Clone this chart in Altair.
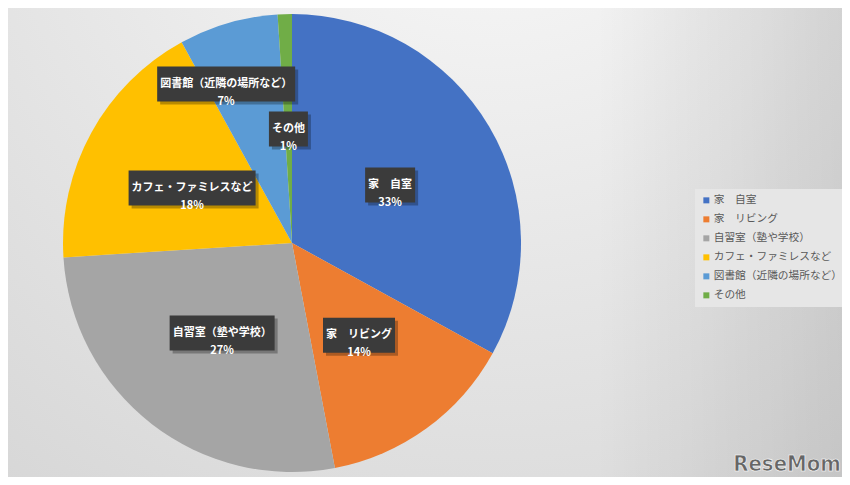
import altair as alt
import pandas as pd

# ---- data ----
categories = ["家\u3000自室", "家\u3000リビング", "自習室（塾や学校）",
              "カフェ・ファミレスなど", "図書館（近隣の場所など）", "その他"]
percents = [33, 14, 27, 18, 7, 1]
colors = ["#4472C4", "#ED7D31", "#A5A5A5", "#FFC000", "#5B9BD5", "#70AD47"]

df = pd.DataFrame({"cat": categories, "pct": percents, "idx": list(range(len(categories)))})

W, H = 834, 469
CX, CY, R = 284, 235, 229
FONT = "Noto Sans CJK JP"

# background gradient (light centre near the top, darker towards the edges)
bg = alt.Chart(alt.Data(values=[{}])).mark_rect(
    fill={"gradient": "radial", "x1": 0.58, "y1": 0.0, "x2": 0.58, "y2": 0.0,
          "r1": 0, "r2": 1.0,
          "stops": [{"offset": 0, "color": "#fbfbfb"},
                    {"offset": 0.5, "color": "#e8e8e8"},
                    {"offset": 1, "color": "#d6d6d6"}]}
).encode(x=alt.value(-10), x2=alt.value(W + 10), y=alt.value(-10), y2=alt.value(H + 10))

shade = alt.Chart(alt.Data(values=[{}])).mark_rect(
    fill={"gradient": "linear", "x1": 0, "y1": 0, "x2": 1, "y2": 0,
          "stops": [{"offset": 0, "color": "rgba(0,0,0,0)"},
                    {"offset": 0.7, "color": "rgba(0,0,0,0)"},
                    {"offset": 1, "color": "rgba(0,0,0,0.10)"}]}
).encode(x=alt.value(-10), x2=alt.value(W + 10), y=alt.value(-10), y2=alt.value(H + 10))

pie = alt.Chart(df).mark_arc(outerRadius=R).encode(
    theta=alt.Theta("pct:Q", stack=True),
    color=alt.Color("cat:N", scale=alt.Scale(domain=categories, range=colors),
                    legend=alt.Legend(title=None, orient="none", legendX=687, legendY=181,
                                      fillColor="#e6e6e6", padding=6,
                                      symbolType="square", symbolSize=36,
                                      symbolStrokeWidth=0, labelFontSize=10.7,
                                      labelColor="#595959", labelFont=FONT,
                                      rowPadding=7, labelOffset=2, labelLimit=200)),
    order=alt.Order("idx:Q"),
    x=alt.value(CX), y=alt.value(CY),
)

base = alt.Chart(df).transform_window(
    cum="sum(pct)", sort=[alt.SortField("idx")], frame=[None, 0]
).transform_joinaggregate(
    total="sum(pct)"
).transform_calculate(
    mid="(datum.cum - datum.pct/2) / datum.total * 2 * PI - (datum.idx == 4 ? 0.11 : 0)",
    r="datum.idx == 4 ? 172 : 114",
    label="datum.cat + '\\n' + datum.pct + '%'",
).transform_calculate(
    lx=f"{CX} + datum.r * sin(datum.mid)",
    ly=f"{CY} - datum.r * cos(datum.mid)",
    bw="11 * length(datum.cat) + 6",
).transform_calculate(
    x1="datum.lx - datum.bw/2", x2="datum.lx + datum.bw/2",
    y1="datum.ly - 17.5", y2="datum.ly + 17.5",
    sx1="datum.lx - datum.bw/2 + 3", sx2="datum.lx + datum.bw/2 + 3",
    sy1="datum.ly - 17.5 + 3", sy2="datum.ly + 17.5 + 3",
)

shadow = base.mark_rect(fill="#000000", opacity=0.28).encode(
    x=alt.X("sx1:Q", scale=None, axis=None), x2="sx2:Q",
    y=alt.Y("sy1:Q", scale=None, axis=None), y2="sy2:Q",
)
boxes = base.mark_rect(fill="#3b3b3b").encode(
    x=alt.X("x1:Q", scale=None, axis=None), x2="x2:Q",
    y=alt.Y("y1:Q", scale=None, axis=None), y2="y2:Q",
)
texts = base.mark_text(color="white", fontWeight="bold", fontSize=11, font=FONT,
                       lineBreak="\n", lineHeight=18, baseline="middle", align="center").encode(
    x=alt.X("lx:Q", scale=None, axis=None),
    y=alt.Y("ly:Q", scale=None, axis=None),
    text="label:N",
)

logo = alt.Chart(alt.Data(values=[{"t": "ReseMom"}])).mark_text(
    font="DejaVu Sans Condensed, DejaVu Sans", fontWeight="bold", fontSize=22, color="#666666",
    stroke="#ffffff", strokeWidth=0.6, align="right", baseline="bottom"
).encode(x=alt.value(W - 1), y=alt.value(H - 1), text="t:N")

chart = alt.layer(bg, shade, pie, shadow, boxes, texts, logo).properties(
    width=W, height=H, autosize=alt.AutoSizeParams(type="none"), padding=0
).configure_view(stroke=None).configure(font=FONT)

chart.save("out.html", embed_options={"renderer": "svg", "actions": False})
